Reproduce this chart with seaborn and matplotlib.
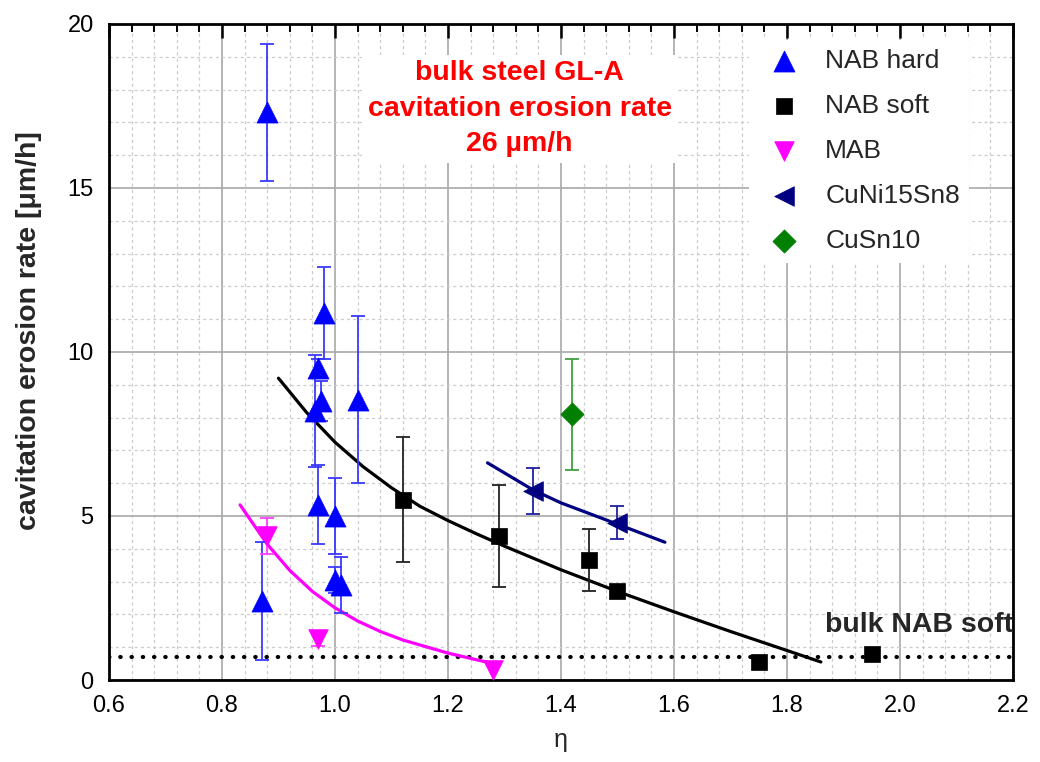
import numpy as np
import matplotlib
matplotlib.use("Agg")
import matplotlib.pyplot as plt
from matplotlib.ticker import MultipleLocator
import seaborn as sns

sns.set_style("white")
plt.rcParams["font.family"] = ["Liberation Sans", "DejaVu Sans"]

# ----------------------------------------------------------------------
# data
# ----------------------------------------------------------------------
hard_x = [0.88, 0.87, 0.98, 0.97, 0.975, 0.965, 0.97, 1.00, 1.00, 1.01, 1.04]
hard_y = [17.3, 2.4, 11.2, 9.5, 8.5, 8.2, 5.35, 5.0, 3.05, 2.9, 8.55]
hard_err = [2.1, 1.8, 1.4, 0.3, 0.6, 1.7, 1.2, 1.15, 0.4, 0.85, 2.55]

soft_x = [1.12, 1.29, 1.45, 1.50, 1.75, 1.95]
soft_y = [5.5, 4.4, 3.65, 2.7, 0.55, 0.8]
soft_err = [1.9, 1.55, 0.95, 0.0, 0.0, 0.0]

mab_x = [0.88, 0.97, 1.28]
mab_y = [4.4, 1.25, 0.3]
mab_err = [0.55, 0.2, 0.0]

cuni_x = [1.35, 1.50]
cuni_y = [5.75, 4.8]
cuni_err = [0.7, 0.5]

cusn_x = [1.42]
cusn_y = [8.1]
cusn_err = [1.7]

# fit curves
fit_soft_x = [0.90, 0.95, 1.00, 1.05, 1.10, 1.15, 1.20, 1.25, 1.30, 1.40, 1.50, 1.60, 1.70, 1.80, 1.86]
fit_soft_y = [9.2, 8.15, 7.25, 6.5, 5.86, 5.3, 4.86, 4.46, 4.08, 3.36, 2.7, 2.08, 1.48, 0.9, 0.55]

fit_mab_x = [0.832, 0.88, 0.92, 0.96, 1.00, 1.04, 1.08, 1.12, 1.20, 1.28]
fit_mab_y = [5.34, 4.14, 3.34, 2.70, 2.2, 1.8, 1.48, 1.22, 0.82, 0.5]

fit_cuni_x = [1.27, 1.35, 1.40, 1.50, 1.584]
fit_cuni_y = [6.62, 5.8, 5.4, 4.75, 4.2]

bulk_nab_soft = 0.7

series = [
    ("NAB hard", hard_x, hard_y, hard_err, "^", "#0000ff", "#3a3aff", 230),
    ("NAB soft", soft_x, soft_y, soft_err, "s", "#000000", "#222222", 130),
    ("MAB", mab_x, mab_y, mab_err, "v", "#ff00ff", "#ff40ff", 200),
    ("CuNi15Sn8", cuni_x, cuni_y, cuni_err, "<", "#000080", "#2020a0", 200),
    ("CuSn10", cusn_x, cusn_y, cusn_err, "D", "#008000", "#40a040", 140),
]

fig = plt.figure(figsize=(10.4, 7.62), dpi=100)
ax = fig.add_axes([0.1048, 0.1076, 0.8692, 0.861])

# reference line for bulk NAB soft
ax.axhline(bulk_nab_soft, color="black", lw=3, linestyle=(0, (0.1, 2.6)),
           dash_capstyle="round", zorder=2)

# fit curves
sns.lineplot(x=fit_soft_x, y=fit_soft_y, color="black", lw=2.3, sort=False,
             estimator=None, ax=ax, zorder=3)
sns.lineplot(x=fit_mab_x, y=fit_mab_y, color="#ff00ff", lw=2.3, sort=False,
             estimator=None, ax=ax, zorder=3)
sns.lineplot(x=fit_cuni_x, y=fit_cuni_y, color="#000080", lw=2.3, sort=False,
             estimator=None, ax=ax, zorder=3)

for label, xs, ys, errs, marker, color, ecolor, size in series:
    xs, ys, errs = np.array(xs), np.array(ys), np.array(errs)
    has_err = errs > 0
    if has_err.any():
        ax.errorbar(xs[has_err], ys[has_err], yerr=errs[has_err], fmt="none",
                    ecolor=ecolor, elinewidth=1.3, capsize=5, capthick=1.3, zorder=4)
    sns.scatterplot(x=xs, y=ys, marker=marker, color=color, s=size,
                    edgecolor=color, linewidth=0.5, label=label, ax=ax, zorder=5)

ax.set_xlim(0.6, 2.2)
ax.set_ylim(0, 20)
ax.xaxis.set_major_locator(MultipleLocator(0.2))
ax.xaxis.set_minor_locator(MultipleLocator(0.04))
ax.yaxis.set_major_locator(MultipleLocator(5))
ax.yaxis.set_minor_locator(MultipleLocator(1))
ax.set_xticklabels([f"{t:.1f}" for t in ax.get_xticks()])

ax.set_axisbelow(True)
ax.grid(which="major", color="#a8a8a8", lw=1.2)
ax.grid(which="minor", color="#cccccc", lw=0.9, linestyle=(0, (2.5, 2.5)))

for side in ax.spines.values():
    side.set_linewidth(2)
    side.set_color("black")

ax.tick_params(which="both", direction="in", top=True, right=False,
               labelsize=17, colors="black")
ax.tick_params(which="major", length=10, width=1.8, pad=11)
ax.tick_params(which="minor", length=6, width=1.4)

ax.set_xlabel("η", fontsize=18, labelpad=8)
ax.set_ylabel("cavitation erosion rate [μm/h]", fontsize=20.5, fontweight="bold")
ax.yaxis.set_label_coords(-0.074, 0.532)

ax.text(1.327, 17.41, "bulk steel GL-A\ncavitation erosion rate\n26 µm/h",
        color="red", fontsize=20.5, fontweight="bold", ha="center", va="center",
        linespacing=1.48, zorder=6,
        bbox=dict(facecolor="white", edgecolor="none", pad=4))
ax.text(1.867, 1.46, "bulk NAB soft", fontsize=20.5, fontweight="bold",
        ha="left", va="baseline", zorder=6)

leg = ax.legend(loc="upper left", bbox_to_anchor=(0.693, 0.996), fontsize=19,
                frameon=True, fancybox=False, framealpha=1, facecolor="white",
                edgecolor="none", labelspacing=0.8, handlelength=2.0,
                handletextpad=0.55, borderpad=0.35, markerscale=1.0)

fig.savefig("out.png", dpi=100)
